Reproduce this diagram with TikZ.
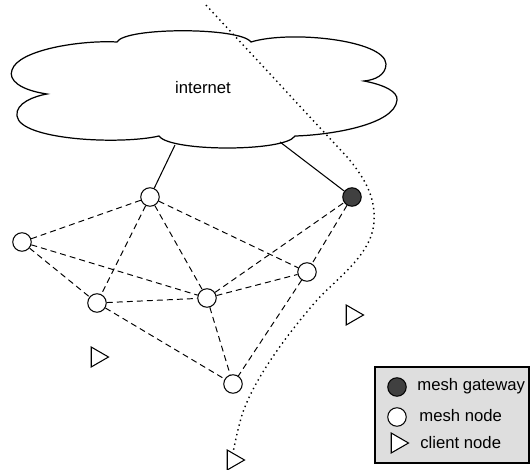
\documentclass[tikz,border=0pt]{standalone}
\usepackage{fontspec}
\setmainfont{Liberation Sans}
\usepackage{tikz}
\usetikzlibrary{calc, shapes.geometric}

\tikzset{
	mesh/.style={circle, draw, fill=white, minimum size=0.37cm, inner sep=0pt, line width=0.6pt},
	gateway/.style={mesh, fill=black!75},
	client/.style={regular polygon, regular polygon sides=3, shape border rotate=-90, draw, fill=white, minimum size=0.46cm, inner sep=0pt, line width=0.6pt},
	link/.style={dash pattern=on 3.4pt off 2.3pt, line width=0.55pt},
	keytext/.style={anchor=west, inner sep=0pt, font=\fontsize{9.5}{11}\selectfont},
}

\begin{document}
\begin{tikzpicture}[x=0.02cm, y=-0.02cm]
					\useasboundingbox (0,0) rectangle (531,470);

					% cloud
					\begin{scope}[line width=0.7pt]
						\draw[fill=white] (117,42) .. controls (125,27) and (240,27) .. (251,42)
							.. controls (290,30) and (385,40) .. (386,64)
							.. controls (386,75) and (375,80) .. (364,81)
							.. controls (385,85) and (398,92) .. (397,100)
							.. controls (395,125) and (330,135) .. (295,136)
							.. controls (285,152) and (170,152) .. (159,136)
							.. controls (120,145) and (20,140) .. (17,116)
							.. controls (15,103) and (35,96) .. (47,94)
							.. controls (20,90) and (8,80) .. (12,70)
							.. controls (18,50) and (80,40) .. (117,42) -- cycle;
						\node[font=\fontsize{9.5}{11}\selectfont] (inet) at (203,88) {internet};
						\coordinate (inetA) at (175,145);
						\coordinate (inetB) at (280,142);
					\end{scope}

					% mesh
					\node[mesh] (top) at (150,197) {};
					\node[gateway] (gw) at (352,197) {};
					\node[mesh] (west) at (22,242) {};
					\node[mesh] (lower) at (97,303) {};
					\node[mesh] (centre) at (207,298) {};
					\node[mesh] (east) at (307,272) {};
					\node[mesh] (south) at (233,384) {};

					\node[client] (c1) at (97,357) {};
					\node[client] (c2) at (352,315) {};
					\node[client] (c3) at (233,460) {};

					\begin{scope}[line width=0.6pt]
						\draw (inetA) -- (top);
						\draw (inetB) -- (gw);
					\end{scope}

					\begin{scope}[link]
						\foreach \a/\b in {top/west, top/lower, top/centre, top/east, west/lower, west/centre, lower/centre, lower/south, centre/south, centre/east, centre/gw, gw/east, east/south}
						{
							\draw (\a) -- (\b);
						}
					\end{scope}

					% path of the client
					\begin{scope}[dotted, line width=0.8pt]
						\draw (206,5) -- (348,158)
							.. controls (362,175) and (376,195) .. (374,222)
							.. controls (372,255) and (335,280) .. (318,299)
							.. controls (295,325) and (255,375) .. (242,415)
							.. controls (237,432) and (235,443) .. (c3.north);
					\end{scope}

					% legend
					\begin{scope}
						\draw[fill=black!13, line width=0.6pt] (375,367) rectangle (529,463);
						\node[gateway] (keygw) at (397,387) {};
						\node[mesh] (keymesh) at (397,417) {};
						\node[client] (keyclient) at (397,443) {};
						\node[keytext] (keygwtext) at (417,386) {mesh gateway};
						\node[keytext] (keymeshtext) at (419,416) {mesh node};
						\node[keytext] (keyclienttext) at (420,443) {client node};
					\end{scope}
				\end{tikzpicture}
\end{document}
